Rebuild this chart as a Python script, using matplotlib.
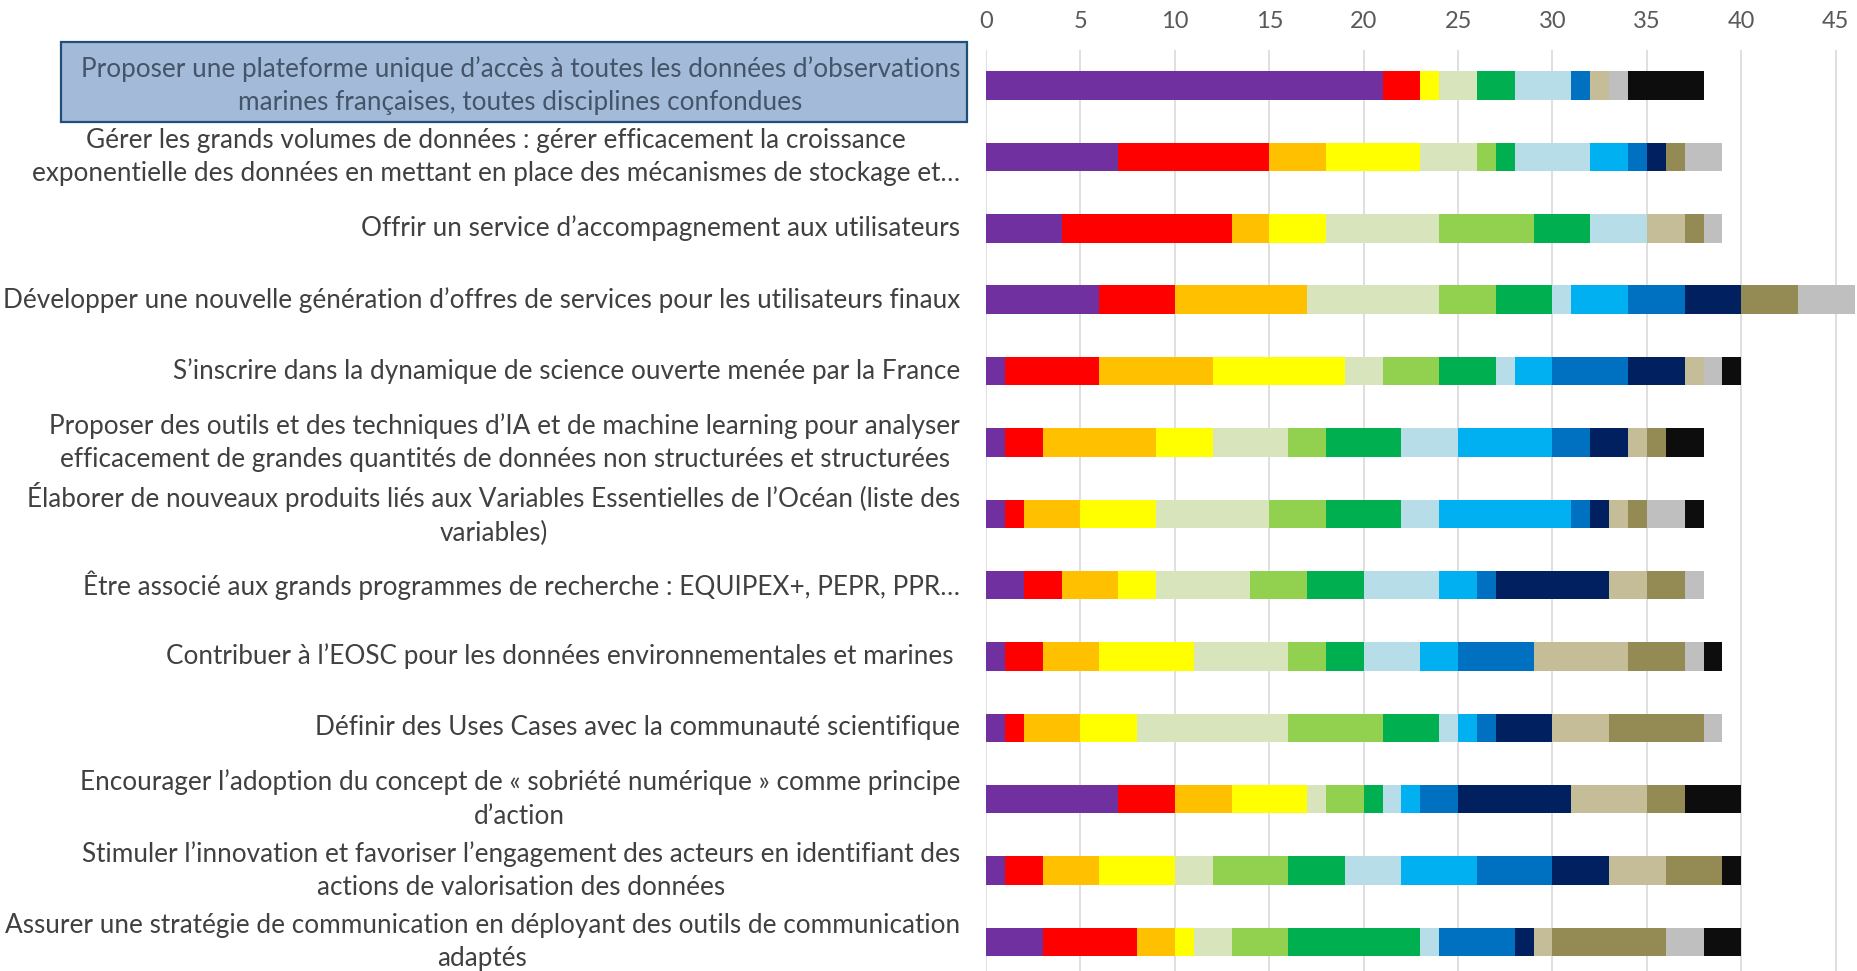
import matplotlib.pyplot as plt
from matplotlib.patches import Rectangle

# libellés des objectifs (de haut en bas)
labels = [
    "Proposer une plateforme unique d’accès à toutes les données d’observations\nmarines françaises, toutes disciplines confondues",
    "Gérer les grands volumes de données : gérer efficacement la croissance\nexponentielle des données en mettant en place des mécanismes de stockage et…",
    "Offrir un service d’accompagnement aux utilisateurs",
    "Développer une nouvelle génération d’offres de services pour les utilisateurs finaux",
    "S’inscrire dans la dynamique de science ouverte menée par la France",
    "Proposer des outils et des techniques d’IA et de machine learning pour analyser\nefficacement de grandes quantités de données non structurées et structurées",
    "Élaborer de nouveaux produits liés aux Variables Essentielles de l’Océan (liste des\nvariables)",
    "Être associé aux grands programmes de recherche : EQUIPEX+, PEPR, PPR…",
    "Contribuer à l’EOSC pour les données environnementales et marines ",
    "Définir des Uses Cases avec la communauté scientifique",
    "Encourager l’adoption du concept de « sobriété numérique » comme principe\nd’action",
    "Stimuler l’innovation et favoriser l’engagement des acteurs en identifiant des\nactions de valorisation des données",
    "Assurer une stratégie de communication en déployant des outils de communication\nadaptés",
]

# nombre de réponses par rang (1er choix ... 15e choix), une liste par rang
rang1 = [21, 7, 4, 6, 1, 1, 1, 2, 1, 1, 7, 1, 3]
rang2 = [2, 8, 9, 4, 5, 2, 1, 2, 2, 1, 3, 2, 5]
rang3 = [0, 3, 2, 7, 6, 6, 3, 3, 3, 3, 3, 3, 2]
rang4 = [1, 5, 3, 0, 7, 3, 4, 2, 5, 3, 4, 4, 1]
rang5 = [2, 3, 6, 7, 2, 4, 6, 5, 5, 8, 1, 2, 2]
rang6 = [0, 1, 5, 3, 3, 2, 3, 3, 2, 5, 2, 4, 3]
rang7 = [2, 1, 3, 3, 3, 4, 4, 3, 2, 3, 1, 3, 7]
rang8 = [3, 4, 3, 1, 1, 3, 2, 4, 3, 1, 1, 3, 1]
rang9 = [0, 2, 0, 3, 2, 5, 7, 2, 2, 1, 1, 4, 0]
rang10 = [1, 1, 0, 3, 4, 2, 1, 1, 4, 1, 2, 4, 4]
rang11 = [0, 1, 0, 3, 3, 2, 1, 6, 0, 3, 6, 3, 1]
rang12 = [1, 0, 2, 0, 1, 1, 1, 2, 5, 3, 4, 3, 1]
rang13 = [0, 1, 1, 3, 0, 1, 1, 2, 3, 5, 2, 3, 6]
rang14 = [1, 2, 1, 3, 1, 0, 2, 1, 1, 1, 0, 0, 2]
rang15 = [4, 0, 0, 0, 1, 2, 1, 0, 1, 0, 3, 1, 2]

series = [rang1, rang2, rang3, rang4, rang5, rang6, rang7, rang8,
          rang9, rang10, rang11, rang12, rang13, rang14, rang15]
colors = ["#7030A0", "#FF0000", "#FFC000", "#FFFF00", "#D8E4BC",
          "#92D050", "#00B050", "#B7DEE8", "#00B0F0", "#0070C0",
          "#002060", "#C4BD97", "#948A54", "#BFBFBF", "#0D0D0D"]

plt.rcParams['font.family'] = ['Lato', 'DejaVu Sans']

fig = plt.figure(figsize=(18.57, 9.71), dpi=100)
ax = fig.add_axes([0.531, -0.0068, 0.4677, 0.9553])

y = list(range(len(labels)))
left = [0] * len(labels)
for vals, c in zip(series, colors):
    ax.barh(y, vals, left=left, height=0.4, color=c, zorder=3)
    left = [l + v for l, v in zip(left, vals)]

ax.set_xlim(0, 46)
ax.set_ylim(12.5, -0.5)
ax.set_xticks(range(0, 46, 5))
ax.xaxis.tick_top()
ax.tick_params(axis='x', length=0, labelsize=17, labelcolor='#595959', pad=13)
ax.set_yticks([])
ax.grid(axis='x', color='#D9D9D9', linewidth=1.2, zorder=0)
for s in ax.spines.values():
    s.set_visible(False)

# cadre bleu autour du premier libellé
fig.add_artist(Rectangle((61 / 1857, 1 - 122 / 971), 906 / 1857, 80 / 971,
                         transform=fig.transFigure, facecolor='#A3BBD8',
                         edgecolor='#1F4E79', linewidth=1.6, zorder=0))

for i, lab in enumerate(labels):
    col = '#44546A' if i == 0 else '#404040'
    ax.text(-1.38, i, lab, ha='right', va='center', multialignment='center',
            fontsize=18.8, color=col, linespacing=1.42, clip_on=False)

fig.savefig('out.png', dpi=100)
